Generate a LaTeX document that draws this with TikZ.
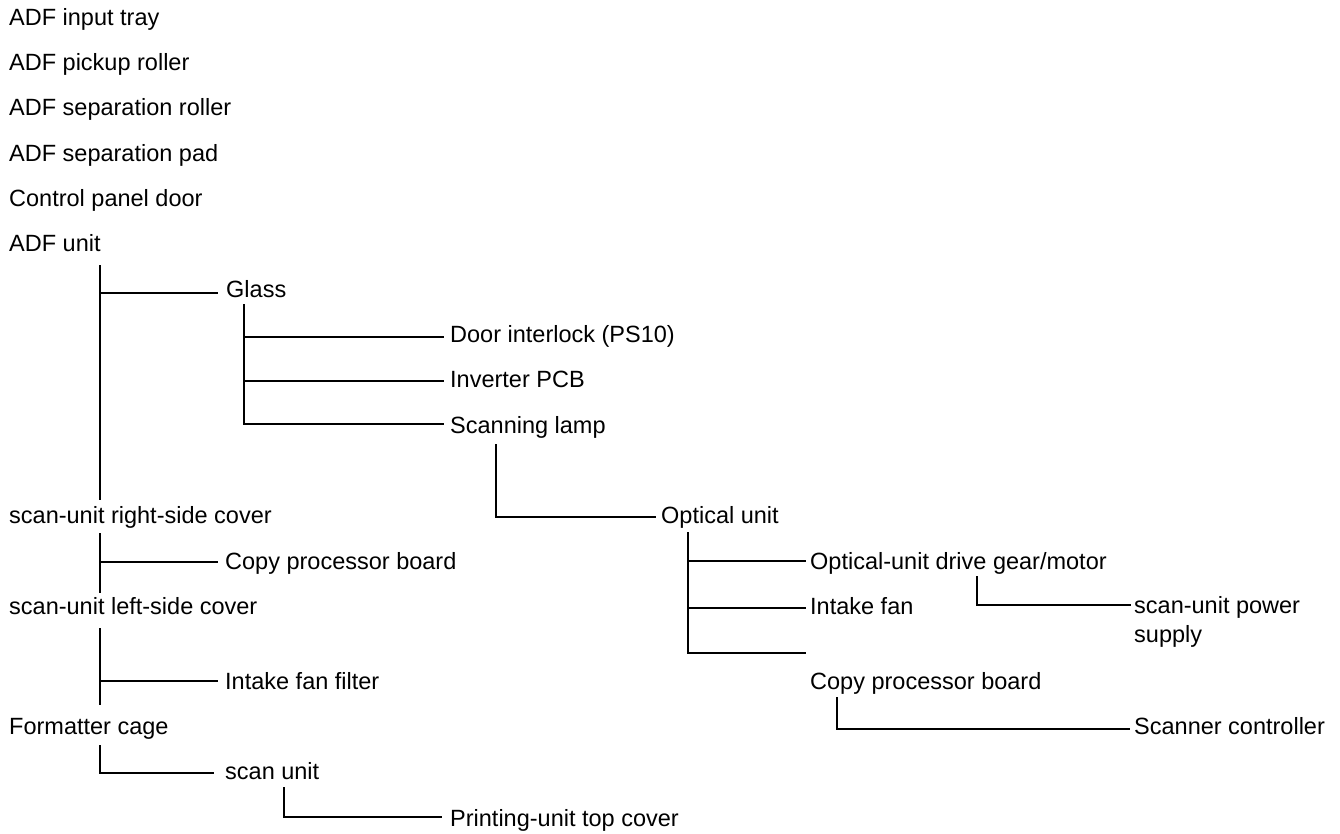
\documentclass[tikz,border=0pt]{standalone}
\usepackage{fontspec}
\setmainfont{Liberation Sans}
\begin{document}
\begin{tikzpicture}[x=1pt,y=1pt,
  lbl/.style={anchor=base west, inner sep=0pt, font=\fontsize{23.5}{29}\selectfont},
  conn/.style={line width=1.8pt, line cap=butt}]
\useasboundingbox (0,0) rectangle (1340,-833);
% top list
\node[lbl] (n1) at (9,-25) {ADF input tray};
\node[lbl] (n2) at (9,-70) {ADF pickup roller};
\node[lbl] (n3) at (9,-115) {ADF separation roller};
\node[lbl] (n4) at (9,-161) {ADF separation pad};
\node[lbl] (n5) at (9,-206) {Control panel door};
\node[lbl] (adfunit) at (9,-251) {ADF unit};
% tree nodes
\node[lbl] (glass) at (226,-297) {Glass};
\node[lbl] (door) at (450,-342) {Door interlock (PS10)};
\node[lbl] (inverter) at (450,-387) {Inverter PCB};
\node[lbl] (scanlamp) at (450,-433) {Scanning lamp};
\node[lbl] (rcover) at (9,-523) {scan-unit right-side cover};
\node[lbl] (optical) at (661,-523) {Optical unit};
\node[lbl] (copyL) at (225,-569) {Copy processor board};
\node[lbl] (drive) at (810,-569) {Optical-unit drive gear/motor};
\node[lbl] (lcover) at (9,-614) {scan-unit left-side cover};
\node[lbl] (intake) at (810,-614) {Intake fan};
\node[lbl] (power) at (1134,-613) {\begin{tabular}[t]{@{}l@{}}scan-unit power\\supply\end{tabular}};
\node[lbl] (filter) at (225,-689) {Intake fan filter};
\node[lbl] (copyR) at (810,-689) {Copy processor board};
\node[lbl] (formatter) at (9,-734) {Formatter cage};
\node[lbl] (scanctl) at (1134,-734) {Scanner controller};
\node[lbl] (scanunit) at (225,-779) {scan unit};
\node[lbl] (printtop) at (450,-826) {Printing-unit top cover};
% left trunk A
\coordinate (tA) at ([shift={(91,-14)}]adfunit.base west);
\coordinate (tAe) at ([shift={(91,23)}]rcover.base west);
\draw[conn] (tA) -- (tAe);
\coordinate (gE) at ([shift={(-8,4)}]glass.base west);
\draw[conn] (gE -| tA) -- (gE);
% glass group
\coordinate (gV) at ([shift={(18,-7)}]glass.base west);
\coordinate (dE) at ([shift={(-6,5)}]door.base west);
\coordinate (iE) at ([shift={(-6,6)}]inverter.base west);
\coordinate (sE) at ([shift={(-6,9)}]scanlamp.base west);
\draw[conn] (gV) |- (sE);
\draw[conn] (dE -| gV) -- (dE);
\draw[conn] (iE -| gV) -- (iE);
% scanning lamp -> optical unit
\coordinate (oE) at ([shift={(-5,6)}]optical.base west);
\draw[conn] ([shift={(46,-11)}]scanlamp.base west) |- (oE);
% optical group
\coordinate (oV) at ([shift={(27,-9)}]optical.base west);
\coordinate (drE) at ([shift={(-4,8)}]drive.base west);
\coordinate (inE) at ([shift={(-4,6)}]intake.base west);
\coordinate (emptyE) at (806,-653);
\draw[conn] (oV) |- (emptyE);
\draw[conn] (drE -| oV) -- (drE);
\draw[conn] (inE -| oV) -- (inE);
% drive -> power supply
\coordinate (pE) at ([shift={(-3,8)}]power.base west);
\draw[conn] ([shift={(167,-7)}]drive.base west) |- (pE);
% copy processor (right) -> scanner controller
\coordinate (scE) at ([shift={(-4,5)}]scanctl.base west);
\draw[conn] ([shift={(27,-8)}]copyR.base west) |- (scE);
% left trunk B
\coordinate (tB) at ([shift={(91,-10)}]rcover.base west);
\coordinate (tBe) at ([shift={(91,21)}]lcover.base west);
\draw[conn] (tB) -- (tBe);
\coordinate (cE) at ([shift={(-7,7)}]copyL.base west);
\draw[conn] (cE -| tB) -- (cE);
% left trunk C
\coordinate (tC) at ([shift={(91,-14)}]lcover.base west);
\coordinate (tCe) at ([shift={(91,29)}]formatter.base west);
\draw[conn] (tC) -- (tCe);
\coordinate (fE) at ([shift={(-7,8)}]filter.base west);
\draw[conn] (fE -| tC) -- (fE);
% formatter -> scan unit
\coordinate (suE) at ([shift={(-11,6)}]scanunit.base west);
\draw[conn] ([shift={(91,-11)}]formatter.base west) |- (suE);
% scan unit -> printing-unit top cover
\coordinate (ptE) at ([shift={(-8,9)}]printtop.base west);
\draw[conn] ([shift={(59,-8)}]scanunit.base west) |- (ptE);
\end{tikzpicture}
\end{document}
